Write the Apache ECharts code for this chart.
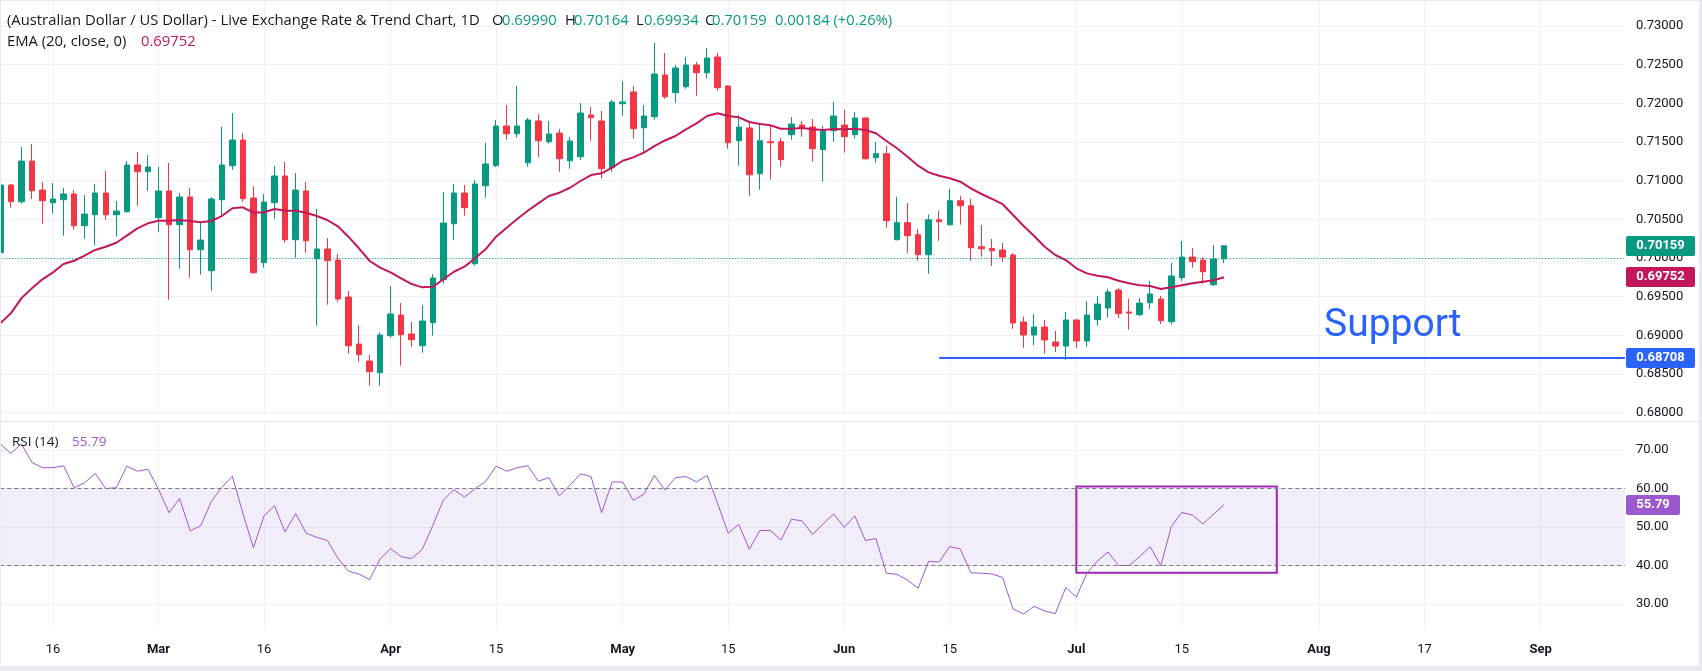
<!DOCTYPE html>
<html>
<head>
<meta charset="utf-8">
<script src="https://cdn.jsdelivr.net/npm/echarts@6/dist/echarts.min.js"></script>
<style>
  html, body { margin: 0; padding: 0; background: #fff; }
  #chart { width: 1702px; height: 671px; }
</style>
</head>
<body>
<div id="chart"></div>
<script>
// daily candles, trading days only, first bar = 2026-02-09
var opens = [
  0.70069, 0.70944, 0.70728, 0.71254, 0.70879, 0.70715, 0.70754, 0.70828, 0.70418, 0.70560,
  0.70841, 0.70560, 0.70599, 0.71203, 0.71116, 0.70521, 0.70867, 0.70431, 0.70789, 0.70108,
  0.69836, 0.70754, 0.71194, 0.71526, 0.70776, 0.69940, 0.70715, 0.71061, 0.70237, 0.70867,
  0.69991, 0.70117, 0.69974, 0.69496, 0.68888, 0.68668, 0.68517, 0.68996, 0.69263, 0.69018,
  0.68866, 0.69164, 0.69720, 0.70444, 0.70841, 0.69927, 0.70935, 0.71194, 0.71707, 0.71607,
  0.71232, 0.71772, 0.71504, 0.71616, 0.71258, 0.71310, 0.71849, 0.71772, 0.71168, 0.71995,
  0.72147, 0.71685, 0.71827, 0.72366, 0.72138, 0.72215, 0.72496, 0.72396, 0.72599, 0.72224,
  0.71517, 0.71681, 0.71090, 0.71504, 0.71504, 0.71595, 0.71720, 0.71694, 0.71401, 0.71646,
  0.71720, 0.71595, 0.71810, 0.71297, 0.71349, 0.70237, 0.70457, 0.70302, 0.70043, 0.70495,
  0.70431, 0.70741, 0.70676, 0.70146, 0.70123, 0.70104, 0.70039, 0.69173, 0.69005, 0.69108,
  0.68914, 0.68862, 0.69199, 0.68927, 0.69203, 0.69354, 0.69586, 0.69302, 0.69267, 0.69422,
  0.69470, 0.69177, 0.69746, 0.70013, 0.69974, 0.69655, 0.69990
];
var closes = [
  0.70944, 0.70728, 0.71254, 0.70870, 0.70741, 0.70763, 0.70828, 0.70418, 0.70569, 0.70841,
  0.70560, 0.70608, 0.71203, 0.71116, 0.71177, 0.70867, 0.70431, 0.70789, 0.70108, 0.70233,
  0.70763, 0.71203, 0.71526, 0.70767, 0.69810, 0.70724, 0.71061, 0.70237, 0.70879, 0.70224,
  0.70117, 0.69965, 0.69470, 0.68866, 0.68750, 0.68530, 0.69005, 0.69276, 0.69009, 0.68944,
  0.69186, 0.69742, 0.70453, 0.70841, 0.70651, 0.70957, 0.71216, 0.71707, 0.71607, 0.71707,
  0.71785, 0.71517, 0.71604, 0.71284, 0.71513, 0.71875, 0.71814, 0.71155, 0.72017, 0.72017,
  0.71672, 0.71836, 0.72379, 0.72086, 0.72457, 0.72496, 0.72396, 0.72586, 0.72202, 0.71491,
  0.71694, 0.71077, 0.71517, 0.71491, 0.71271, 0.71733, 0.71685, 0.71414, 0.71642, 0.71836,
  0.71569, 0.71810, 0.71284, 0.71349, 0.70483, 0.70457, 0.70289, 0.70043, 0.70495, 0.70470,
  0.70741, 0.70676, 0.70133, 0.70120, 0.70093, 0.70013, 0.69160, 0.69005, 0.69108, 0.68940,
  0.68862, 0.69199, 0.68927, 0.69263, 0.69405, 0.69561, 0.69280, 0.69289, 0.69418, 0.69535,
  0.69190, 0.69768, 0.70013, 0.69952, 0.69823, 0.69987, 0.70159
];
var lows = [
  0.70052, 0.70651, 0.70702, 0.70763, 0.70444, 0.70573, 0.70289, 0.70366, 0.70250, 0.70164,
  0.70495, 0.70276, 0.70586, 0.70676, 0.70870, 0.70340, 0.69461, 0.69862, 0.69746, 0.69784,
  0.69577, 0.70547, 0.71142, 0.70728, 0.69800, 0.69875, 0.70508, 0.70198, 0.70004, 0.70069,
  0.69125, 0.69396, 0.69435, 0.68763, 0.68659, 0.68349, 0.68349, 0.68970, 0.68608, 0.68853,
  0.68776, 0.68996, 0.69668, 0.70237, 0.70547, 0.69900, 0.70780, 0.71177, 0.71530, 0.71556,
  0.71181, 0.71310, 0.71478, 0.71116, 0.71155, 0.71267, 0.71517, 0.71026, 0.71116, 0.71840,
  0.71543, 0.71362, 0.71788, 0.72060, 0.72008, 0.72189, 0.72099, 0.72319, 0.72163, 0.71414,
  0.71194, 0.70806, 0.70883, 0.71013, 0.71181, 0.71530, 0.71569, 0.71245, 0.70987, 0.71504,
  0.71362, 0.71543, 0.71270, 0.71232, 0.70392, 0.70230, 0.70069, 0.69965, 0.69797, 0.70224,
  0.70420, 0.70431, 0.69965, 0.70017, 0.69897, 0.69949, 0.69082, 0.68840, 0.68875, 0.68763,
  0.68785, 0.68685, 0.68837, 0.68853, 0.69125, 0.69228, 0.69228, 0.69073, 0.69250, 0.69345,
  0.69147, 0.69138, 0.69703, 0.69875, 0.69668, 0.69638, 0.69934
];
var highs = [
  0.71000, 0.70957, 0.71435, 0.71474, 0.70983, 0.70970, 0.70905, 0.70879, 0.70815, 0.70957,
  0.71125, 0.70737, 0.71254, 0.71371, 0.71332, 0.71177, 0.71229, 0.70841, 0.70905, 0.70479,
  0.70789, 0.71694, 0.71875, 0.71616, 0.70931, 0.70828, 0.71190, 0.71242, 0.71099, 0.70983,
  0.70634, 0.70259, 0.70052, 0.69574, 0.69134, 0.68746, 0.69040, 0.69638, 0.69418, 0.69173,
  0.69393, 0.69793, 0.70854, 0.70957, 0.70944, 0.71009, 0.71487, 0.71785, 0.71979, 0.72224,
  0.71810, 0.71862, 0.71772, 0.71668, 0.71565, 0.72004, 0.71953, 0.71901, 0.72043, 0.72289,
  0.72224, 0.71979, 0.72780, 0.72651, 0.72496, 0.72599, 0.72535, 0.72716, 0.72651, 0.72237,
  0.71849, 0.71746, 0.71746, 0.71707, 0.71552, 0.71823, 0.71772, 0.71798, 0.71707, 0.72017,
  0.71914, 0.71888, 0.71823, 0.71500, 0.71452, 0.70793, 0.70711, 0.70379, 0.70560, 0.70612,
  0.70896, 0.70806, 0.70767, 0.70431, 0.70246, 0.70194, 0.70065, 0.69241, 0.69276, 0.69199,
  0.69056, 0.69302, 0.69215, 0.69444, 0.69509, 0.69603, 0.69612, 0.69474, 0.69483, 0.69703,
  0.69509, 0.69936, 0.70220, 0.70126, 0.70013, 0.70168, 0.70164
];
// EMA(20) as drawn
var ema = [
  0.69156, 0.69285, 0.69479, 0.69608, 0.69725, 0.69815, 0.69923, 0.69965, 0.70030, 0.70104,
  0.70146, 0.70198, 0.70289, 0.70384, 0.70449, 0.70483, 0.70483, 0.70492, 0.70479, 0.70462,
  0.70479, 0.70543, 0.70643, 0.70656, 0.70586, 0.70591, 0.70634, 0.70612, 0.70612, 0.70586,
  0.70543, 0.70492, 0.70410, 0.70276, 0.70126, 0.69965, 0.69875, 0.69815, 0.69738, 0.69664,
  0.69621, 0.69629, 0.69725, 0.69823, 0.69888, 0.69996, 0.70113, 0.70276, 0.70392, 0.70505,
  0.70612, 0.70707, 0.70802, 0.70845, 0.70909, 0.70996, 0.71073, 0.71095, 0.71168, 0.71258,
  0.71302, 0.71362, 0.71448, 0.71520, 0.71578, 0.71664, 0.71742, 0.71836, 0.71871, 0.71836,
  0.71819, 0.71759, 0.71733, 0.71716, 0.71672, 0.71672, 0.71681, 0.71664, 0.71655, 0.71668,
  0.71664, 0.71672, 0.71655, 0.71613, 0.71513, 0.71419, 0.71310, 0.71194, 0.71108, 0.71064,
  0.71031, 0.70987, 0.70901, 0.70828, 0.70766, 0.70698, 0.70556, 0.70414, 0.70285, 0.70146,
  0.70039, 0.69974, 0.69867, 0.69802, 0.69771, 0.69751, 0.69707, 0.69673, 0.69647, 0.69638,
  0.69599, 0.69621, 0.69647, 0.69673, 0.69694, 0.69712, 0.69752
];
// RSI(14) as drawn
var rsi = [
  71.6, 69.1, 71.6, 66.8, 65.4, 65.4, 65.9, 60.2, 61.5, 63.9,
  60.0, 60.2, 65.8, 64.5, 65.0, 59.8, 53.7, 57.4, 49.0, 50.3,
  56.6, 60.3, 63.2, 53.5, 44.6, 52.9, 55.5, 48.7, 53.5, 48.4,
  47.3, 46.5, 41.9, 38.5, 37.8, 36.3, 41.7, 44.4, 42.3, 41.8,
  44.2, 50.4, 57.0, 59.7, 57.8, 59.9, 61.8, 65.8, 64.5, 65.4,
  65.9, 61.9, 62.8, 58.1, 60.8, 63.8, 63.1, 53.7, 61.7, 61.7,
  56.9, 58.5, 63.4, 59.6, 62.8, 63.1, 61.7, 63.4, 56.1, 48.4,
  50.7, 44.2, 49.1, 49.1, 46.6, 52.0, 51.6, 48.1, 50.8, 53.4,
  49.9, 52.9, 46.5, 47.0, 38.0, 37.7, 36.2, 34.1, 41.1, 40.9,
  44.9, 44.3, 38.1, 38.0, 37.8, 36.9, 28.7, 27.4, 29.4, 28.2,
  27.5, 34.3, 31.8, 38.0, 41.2, 43.5, 40.0, 40.0, 42.3, 44.9,
  39.9, 50.1, 53.8, 53.1, 50.8, 53.3, 55.79
];
var tickLabels = {
  '2026-02-16': '16', '2026-03-02': 'Mar', '2026-03-16': '16', '2026-04-01': 'Apr',
  '2026-04-15': '15', '2026-05-01': 'May', '2026-05-15': '15', '2026-06-01': 'Jun',
  '2026-06-15': '15', '2026-07-01': 'Jul', '2026-07-15': '15', '2026-08-03': 'Aug',
  '2026-08-17': '17', '2026-09-01': 'Sep'
};
var lastClose = 0.70159;
var lastEma = 0.69752;
var supportLevel = 0.68708;
var lastRsi = 55.79;

// weekday categories (axis runs on past the last bar)
var dates = [];
var d = new Date(Date.UTC(2026, 1, 9));
while (dates.length < 155) {
  var wd = d.getUTCDay();
  if (wd !== 0 && wd !== 6) dates.push(d.toISOString().slice(0, 10));
  d.setUTCDate(d.getUTCDate() + 1);
}

var candles = opens.map(function (o, i) { return [o, closes[i], lows[i], highs[i]]; });

var UP = '#089981', DOWN = '#F23645', EMA_C = '#C2185B', RSI_C = '#9C58CF', BLUE = '#2962FF';
var TXT = '#131722', GRID = '#f0f1f4';
var FONT = 'Roboto, "Noto Sans", sans-serif';
var LEG_FONT = '"Open Sans", Roboto, sans-serif';

var chart = echarts.init(document.getElementById('chart'), null, { renderer: 'canvas' });

var isTick = function (i, v) { return !!tickLabels[v]; };

chart.setOption({
  animation: false,
  backgroundColor: '#ffffff',
  textStyle: { fontFamily: FONT },
  grid: [
    { left: 0.25, top: -12.67, width: 1624.7, height: 425.4, outerBoundsMode: 'none', containLabel: false },
    { left: 0.25, top: 421.7, width: 1624.7, height: 220.8, outerBoundsMode: 'none', containLabel: false }
  ],
  xAxis: [
    {
      type: 'category', gridIndex: 0, data: dates, boundaryGap: false,
      axisLine: { show: false }, axisTick: { show: false }, axisLabel: { show: false },
      splitLine: { show: true, interval: isTick, lineStyle: { color: GRID } }
    },
    {
      type: 'category', gridIndex: 1, data: dates, boundaryGap: false,
      axisLine: { show: false }, axisTick: { show: false },
      axisLabel: {
        interval: isTick, margin: 1, color: TXT, fontSize: 13, fontFamily: FONT,
        formatter: function (v) {
          var t = tickLabels[v] || '';
          return /^[A-Z]/.test(t) ? '{m|' + t + '}' : t;
        },
        rich: { m: { fontWeight: 'bold', fontSize: 13, color: TXT, fontFamily: FONT } }
      },
      splitLine: { show: true, interval: isTick, lineStyle: { color: GRID } }
    }
  ],
  yAxis: [
    {
      type: 'value', gridIndex: 0, position: 'right', min: 0.68, max: 0.735, interval: 0.005,
      axisLine: { show: false }, axisTick: { show: false },
      splitLine: { lineStyle: { color: GRID } },
      axisLabel: { margin: 11, color: TXT, fontSize: 13, fontFamily: FONT,
        formatter: function (v) { return v > 0.7325 ? '' : v.toFixed(5); } }
    },
    {
      type: 'value', gridIndex: 1, position: 'right', min: 20, max: 77.35, interval: 10,
      axisLine: { show: false }, axisTick: { show: false },
      splitLine: { lineStyle: { color: GRID } },
      axisLabel: { margin: 11, color: TXT, fontSize: 13, fontFamily: FONT,
        formatter: function (v) { return (v < 25 || v > 75) ? '' : v.toFixed(2); } }
    }
  ],
  series: [
    {
      name: 'AUDUSD', type: 'candlestick', xAxisIndex: 0, yAxisIndex: 0,
      data: candles, barWidth: 6,
      itemStyle: { color: UP, color0: DOWN, borderColor: UP, borderColor0: DOWN, borderWidth: 1 },
      markLine: {
        silent: true, symbol: 'none', animation: false, label: { show: false },
        data: [
          { yAxis: lastClose, lineStyle: { color: UP, type: [1, 2], width: 1 } },
          [
            { coord: [dates[89], supportLevel], lineStyle: { color: BLUE, width: 2, type: 'solid' } },
            { coord: [dates[154], supportLevel], lineStyle: { color: BLUE, width: 2, type: 'solid' } }
          ]
        ]
      }
    },
    {
      name: 'EMA', type: 'line', xAxisIndex: 0, yAxisIndex: 0, data: ema,
      showSymbol: false, smooth: false, lineStyle: { color: EMA_C, width: 2 }
    },
    {
      name: 'RSI', type: 'line', xAxisIndex: 1, yAxisIndex: 1, data: rsi,
      showSymbol: false, lineStyle: { color: RSI_C, width: 1 },
      markLine: {
        silent: true, symbol: 'none', animation: false, label: { show: false },
        lineStyle: { color: '#787B86', type: [4, 3], width: 1 },
        data: [{ yAxis: 60 }, { yAxis: 40 }]
      },
      markArea: {
        silent: true, animation: false,
        data: [
          [{ yAxis: 40, itemStyle: { color: 'rgba(126,87,194,0.1)' } }, { yAxis: 60 }],
          [
            { coord: [dates[102], 60.5], itemStyle: { color: 'rgba(0,0,0,0)', borderColor: '#9C27B0', borderWidth: 2 } },
            { coord: [dates[121], 38.1] }
          ]
        ]
      }
    }
  ]
});

// overlays: legends, value boxes on the scales, panel frame
var yP = function (v) { return chart.convertToPixel({ yAxisIndex: 0 }, v); };
var yR = function (v) { return chart.convertToPixel({ yAxisIndex: 1 }, v); };

function txt(x, y, s, color, size, fam) {
  return { type: 'text', x: x, y: y, z: 100,
    style: { text: s, fill: color, font: (size || 14.8) + 'px ' + (fam || LEG_FONT), verticalAlign: 'middle' } };
}
function valueBox(y, s, color, w) {
  return [
    { type: 'rect', z: 101, shape: { x: 1626, y: Math.round(y) - 10, width: w, height: 20, r: 2 }, style: { fill: color } },
    { type: 'text', z: 102, x: 1626 + w / 2, y: Math.round(y),
      style: { text: s, fill: '#fff', font: 'bold 13px ' + FONT, align: 'center', verticalAlign: 'middle' } }
  ];
}

var g = [
  // hide gridline tails below the RSI panel
  { type: 'rect', z: 90, shape: { x: 0, y: 628, width: 1700, height: 15 }, style: { fill: '#fff' } },
  txt(7, 21, '(Australian Dollar / US Dollar) - Live Exchange Rate & Trend Chart, 1D', TXT),
  txt(492, 21, 'O', TXT), txt(502, 21, '0.69990', UP),
  txt(565, 21, 'H', TXT), txt(574, 21, '0.70164', UP),
  txt(636, 21, 'L', TXT), txt(644, 21, '0.69934', UP),
  txt(705, 21, 'C', TXT), txt(712, 21, '0.70159', UP),
  txt(775, 21, '0.00184 (+0.26%)', UP),
  txt(7, 42, 'EMA (20, close, 0)', TXT), txt(141, 42, '0.69752', EMA_C),
  txt(12, 442, 'RSI (14)', TXT, 13.5), txt(72, 442, '55.79', RSI_C, 13.5),
  txt(1324, 326, 'Support', BLUE, 39, FONT),
  { type: 'line', z: 95, shape: { x1: 0, y1: 421.5, x2: 1699, y2: 421.5 }, style: { stroke: '#e0e3eb', lineWidth: 1 } },
  { type: 'rect', z: 95, shape: { x: 1699, y: 0, width: 3, height: 671 }, style: { fill: '#e9eaf0' } },
  { type: 'rect', z: 95, shape: { x: 0, y: 666, width: 1702, height: 5 }, style: { fill: '#e9eaf0' } },
  { type: 'rect', z: 95, shape: { x: 0, y: 0, width: 1702, height: 1 }, style: { fill: '#e9eaf0' } },
  { type: 'rect', z: 95, shape: { x: 0, y: 0, width: 1, height: 671 }, style: { fill: '#e9eaf0' } }
]
  .concat(valueBox(yP(lastClose), lastClose.toFixed(5), UP, 69))
  .concat(valueBox(yP(lastEma), lastEma.toFixed(5), EMA_C, 69))
  .concat(valueBox(yP(supportLevel), supportLevel.toFixed(5), BLUE, 69))
  .concat(valueBox(yR(lastRsi), lastRsi.toFixed(2), RSI_C, 54));

chart.setOption({ graphic: g });
</script>
</body>
</html>
